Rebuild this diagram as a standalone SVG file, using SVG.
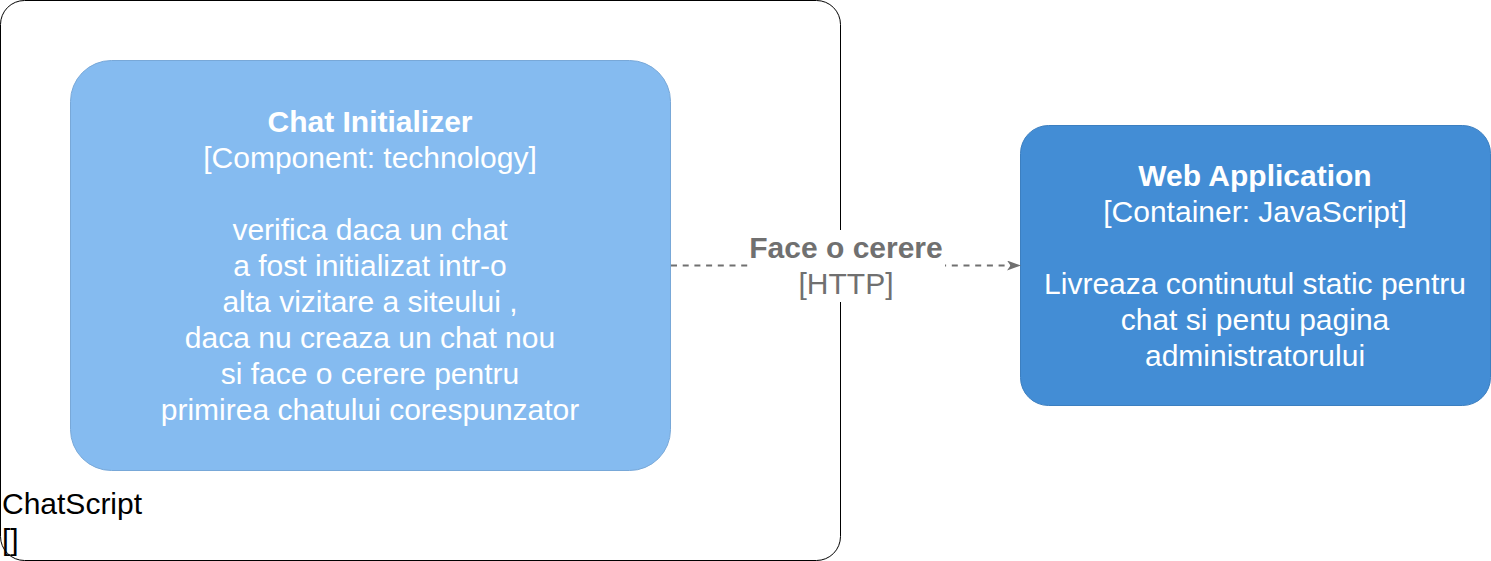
<svg xmlns="http://www.w3.org/2000/svg" width="1491" height="561" viewBox="0 0 1491 561">
<style>
text{font-family:"Liberation Sans",Arial,sans-serif;font-size:30px}
.w{fill:#ffffff;text-anchor:middle}
.b{font-weight:bold}
.g{fill:#707070;text-anchor:middle}
</style>
<defs>
<marker id="arr" viewBox="0 0 14 10" refX="13" refY="5" markerWidth="14" markerHeight="10" markerUnits="userSpaceOnUse" orient="auto">
<path d="M0,0 L14,5 L0,10 L3.5,5 Z" fill="#707070"/>
</marker>
</defs>
<rect width="1491" height="561" fill="#ffffff"/>
<g id="boundary">
<rect x="0.5" y="0.5" width="840" height="560" rx="24" ry="24" fill="#ffffff" stroke="#000000" stroke-width="1"/>
<text x="2" y="514" fill="#000000">ChatScript</text>
<text x="2" y="550" fill="#000000">[]</text>
</g>
<g id="chat-initializer">
<rect x="70.5" y="60.5" width="600" height="410" rx="41" ry="41" fill="#85BBF0" stroke="#78A8D8" stroke-width="1"/>
<text class="w b" x="370" y="132">Chat Initializer</text>
<text class="w" x="370" y="168">[Component: technology]</text>
<text class="w" x="370" y="240">verifica daca un chat</text>
<text class="w" x="370" y="276">a fost initializat intr-o</text>
<text class="w" x="370" y="312">alta vizitare a siteului ,</text>
<text class="w" x="370" y="348">daca nu creaza un chat nou</text>
<text class="w" x="370" y="384">si face o cerere pentru</text>
<text class="w" x="370" y="420">primirea chatului corespunzator</text>
</g>
<g id="web-application">
<rect x="1020.5" y="125.5" width="470" height="280" rx="28" ry="28" fill="#438DD5" stroke="#3C7FC0" stroke-width="1"/>
<text class="w b" x="1255" y="186">Web Application</text>
<text class="w" x="1255" y="222">[Container: JavaScript]</text>
<text class="w" x="1255" y="294">Livreaza continutul static pentru</text>
<text class="w" x="1255" y="330">chat si pentu pagina</text>
<text class="w" x="1255" y="366">administratorului</text>
</g>
<g id="connectors">
<path d="M671,265.5 L1020,265.5" fill="none" stroke="#707070" stroke-width="2" stroke-dasharray="6 5.7" marker-end="url(#arr)"/>
<rect x="749" y="230" width="196" height="72" fill="#ffffff"/>
<text class="g b" x="846" y="258">Face o cerere</text>
<text class="g" x="846" y="294">[HTTP]</text>
</g>
</svg>
